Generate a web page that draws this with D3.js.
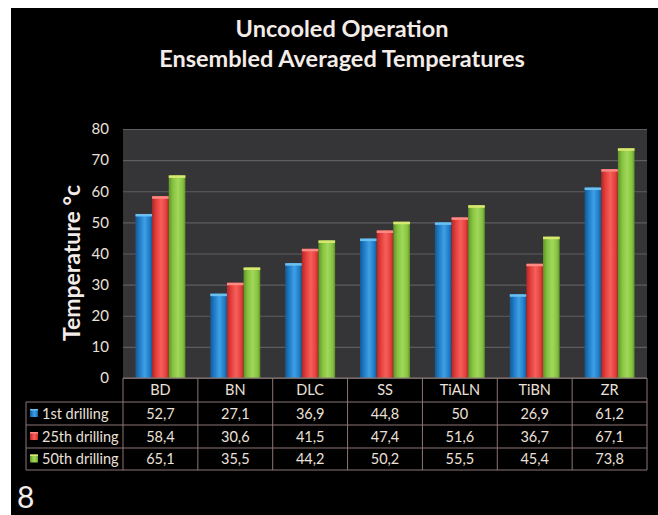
<!DOCTYPE html>
<html><head><meta charset="utf-8">
<script src="https://cdn.jsdelivr.net/npm/d3@7"></script>
<style>html,body{margin:0;padding:0;background:#fff;}svg{display:block;}</style>
</head><body>
<script>
const categories = ["BD","BN","DLC","SS","TiALN","TiBN","ZR"];
const seriesNames = ["1st drilling","25th drilling","50th drilling"];
const first = [52.7,27.1,36.9,44.8,50,26.9,61.2];
const twentyFifth = [58.4,30.6,41.5,47.4,51.6,36.7,67.1];
const fiftieth = [65.1,35.5,44.2,50.2,55.5,45.4,73.8];
const tableLabels = [
  ["52,7","27,1","36,9","44,8","50","26,9","61,2"],
  ["58,4","30,6","41,5","47,4","51,6","36,7","67,1"],
  ["65,1","35,5","44,2","50,2","55,5","45,4","73,8"]
];
const yTicks = [0,10,20,30,40,50,60,70,80];
const titleLines = ["Uncooled Operation","Ensembled Averaged Temperatures"];
const series = [first, twentyFifth, fiftieth];
const colors = [
  {base:"#1f7cc6", light:"#3fa0e6", dark:"#145a96", top:"#6cc0f0"},
  {base:"#e53e3c", light:"#f5605a", dark:"#b02826", top:"#ff8a84"},
  {base:"#86c240", light:"#a2d85a", dark:"#5f9428", top:"#d8e870"}
];

const W = 658, H = 515;
const svg = d3.select("body").append("svg").attr("width",W).attr("height",H);
const defs = svg.append("defs");
colors.forEach((c,i)=>{
  const g = defs.append("linearGradient").attr("id","g"+i).attr("x1","0").attr("x2","1").attr("y1","0").attr("y2","0");
  g.append("stop").attr("offset","0%").attr("stop-color",c.dark);
  g.append("stop").attr("offset","25%").attr("stop-color",c.base);
  g.append("stop").attr("offset","55%").attr("stop-color",c.light);
  g.append("stop").attr("offset","85%").attr("stop-color",c.base);
  g.append("stop").attr("offset","100%").attr("stop-color",c.dark);
});

svg.append("rect").attr("x",11).attr("y",8).attr("width",W-11).attr("height",H-8).attr("fill","#000");

const txt = "#ece0da";
const font = "Lato, 'Open Sans', sans-serif";

svg.selectAll("text.title").data(titleLines).join("text")
  .attr("x",342).attr("y",(d,i)=>37+i*30)
  .attr("text-anchor","middle").attr("fill","#f4ece8")
  .attr("font-family",font).attr("font-weight","bold").attr("font-size",23.5)
  .text(d=>d);

const plotL = 123, plotR = 647, plotT = 129, plotB = 378;
const x = d3.scaleBand().domain(categories).range([plotL,plotR]).paddingInner(0).paddingOuter(0);
const y = d3.scaleLinear().domain([0,80]).range([plotB,plotT]);
const xs = d3.scaleBand().domain(d3.range(3)).range([0,x.bandwidth()]).paddingInner(0).paddingOuter(0.75);

svg.append("rect").attr("x",plotL).attr("y",plotT).attr("width",plotR-plotL).attr("height",plotB-plotT).attr("fill","#353537");

const yAxis = d3.axisLeft(y).tickValues(yTicks).tickSize(-(plotR-plotL)).tickPadding(14);
const ga = svg.append("g").attr("transform",`translate(${plotL},0)`).call(yAxis);
ga.select(".domain").remove();
ga.selectAll(".tick line").attr("stroke","#5e5e60").attr("stroke-width",1.2);
ga.selectAll(".tick text").attr("fill",txt).attr("font-family",font).attr("font-size",15);

const groups = svg.append("g").selectAll("g").data(categories).join("g")
  .attr("transform",d=>`translate(${x(d)},0)`);
groups.each(function(cat,ci){
  const g = d3.select(this);
  series.forEach((s,si)=>{
    const v = s[ci];
    g.append("rect").attr("x",xs(si)).attr("y",y(v)).attr("width",xs.bandwidth()).attr("height",y(0)-y(v))
      .attr("fill",`url(#g${si})`);
    g.append("rect").attr("x",xs(si)).attr("y",y(v)).attr("width",xs.bandwidth()).attr("height",2.5)
      .attr("fill",colors[si].top);
  });
});

svg.append("text").attr("transform",`translate(80,263) rotate(-90)`)
  .attr("text-anchor","middle").attr("fill","#f4ece8")
  .attr("font-family",font).attr("font-weight","bold").attr("font-size",23)
  .text("Temperature °c");

const border = "#8c7674";
const rowTops = [378,402,425,448,470];
const legL = 26;
const tg = svg.append("g");
tg.append("line").attr("x1",plotL).attr("x2",plotR).attr("y1",rowTops[0]).attr("y2",rowTops[0]).attr("stroke",border);
rowTops.slice(1).forEach(yy=>{
  tg.append("line").attr("x1",legL).attr("x2",plotR).attr("y1",yy).attr("y2",yy).attr("stroke",border);
});
tg.append("line").attr("x1",legL).attr("x2",legL).attr("y1",rowTops[1]).attr("y2",rowTops[4]).attr("stroke",border);
categories.forEach(c=>{
  tg.append("line").attr("x1",x(c)).attr("x2",x(c)).attr("y1",rowTops[0]).attr("y2",rowTops[4]).attr("stroke",border);
});
tg.append("line").attr("x1",plotR).attr("x2",plotR).attr("y1",rowTops[0]).attr("y2",rowTops[4]).attr("stroke",border);

tg.selectAll("text.hdr").data(categories).join("text")
  .attr("x",d=>x(d)+x.bandwidth()/2).attr("y",(rowTops[0]+rowTops[1])/2+5)
  .attr("text-anchor","middle").attr("fill",txt).attr("font-family",font).attr("font-size",14.5)
  .text(d=>d);
seriesNames.forEach((name,si)=>{
  const cy = (rowTops[si+1]+rowTops[si+2])/2;
  tg.append("rect").attr("x",30).attr("y",cy-4.5).attr("width",8).attr("height",8).attr("fill",`url(#g${si})`);
  tg.append("rect").attr("x",30).attr("y",cy-4.5).attr("width",8).attr("height",1.5).attr("fill",colors[si].top);
  tg.append("text").attr("x",42).attr("y",cy+5).attr("fill",txt).attr("font-family",font).attr("font-size",14.5).text(name);
  categories.forEach((c,ci)=>{
    tg.append("text").attr("x",x(c)+x.bandwidth()/2).attr("y",cy+5).attr("text-anchor","middle")
      .attr("fill",txt).attr("font-family",font).attr("font-size",14.5).text(tableLabels[si][ci]);
  });
});

svg.append("text").attr("x",17).attr("y",508).attr("fill","#f4ece8").attr("font-family",font).attr("font-size",30).text("8");
</script>
</body></html>
